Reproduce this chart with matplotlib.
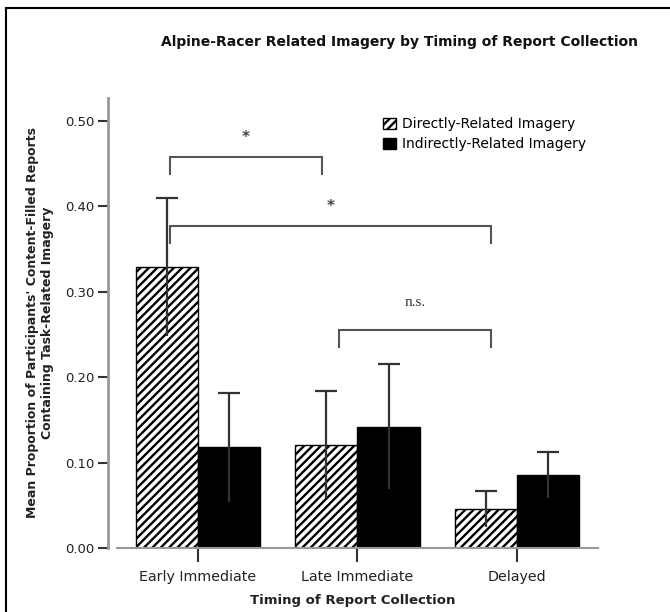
import numpy as np
import matplotlib.pyplot as plt
from matplotlib.lines import Line2D

categories = ['Early Immediate', 'Late Immediate', 'Delayed']
direct_mean = [0.329, 0.121, 0.046]
direct_err = [0.081, 0.063, 0.021]
indirect_mean = [0.118, 0.142, 0.085]
indirect_err = [0.064, 0.073, 0.027]
yticks = [0.0, 0.1, 0.2, 0.3, 0.4, 0.5]

# significance brackets: x left, x right, y top, label, label y
brackets = [(-0.176, 0.777, 0.458, '*', 0.481),
            (-0.176, 1.837, 0.377, '*', 0.400),
            (0.884, 1.837, 0.255, 'n.s.', 0.287)]

plt.rcParams['hatch.linewidth'] = 1.7
plt.rcParams['font.family'] = 'DejaVu Sans'

fig = plt.figure(figsize=(6.7, 6.12), dpi=100)
ax = fig.add_axes([108/670, 1-548/612, 490/670, 450/612])

x = np.arange(len(categories))
w = 0.39
b1 = ax.bar(x - w/2, direct_mean, w, color='white', edgecolor='black',
            hatch='////', linewidth=1, label='Directly-Related Imagery')
b2 = ax.bar(x + w/2, indirect_mean, w, color='black', edgecolor='black',
            linewidth=1, label='Indirectly-Related Imagery')

for xs, m, e in [(x - w/2, direct_mean, direct_err), (x + w/2, indirect_mean, indirect_err)]:
    eb = ax.errorbar(xs, m, yerr=e, fmt='none', ecolor='#333333',
                     elinewidth=1.6, capsize=8, capthick=1.6, zorder=5)
    eb[1][0].set_visible(False)

for xl, xr, yt, lab, ly in brackets:
    ax.plot([xl, xl, xr, xr], [yt - 0.02, yt, yt, yt - 0.02], color='#555555',
            lw=1.5, solid_joinstyle='miter')
    if lab == '*':
        ax.text((xl + xr) / 2, ly, lab, ha='center', va='center', fontsize=11,
                fontweight='bold', color='#444444')
    else:
        ax.text((xl + xr) / 2, ly, lab, ha='center', va='center', fontsize=11,
                family='Liberation Serif', color='#333333')

ax.set_xlim(-0.564, 2.508)
ax.set_ylim(0, 0.527)
ax.set_yticks(yticks)
ax.set_yticklabels(['%.2f' % t for t in yticks], fontsize=9.5, color='#222222')
ax.set_xticks(x)
ax.set_xticklabels(categories, fontsize=10.3, color='#222222')
ax.tick_params(axis='y', length=7, width=1.5, color='#333333', pad=3)
ax.tick_params(axis='x', length=10, width=1.5, color='#333333', pad=6)

for s in ['top', 'right']:
    ax.spines[s].set_visible(False)
ax.spines['left'].set_color('#999999')
ax.spines['left'].set_linewidth(2)
ax.spines['bottom'].set_color('#999999')
ax.spines['bottom'].set_linewidth(1.5)
ax.spines['bottom'].set_bounds(-0.51, 2.508)

ax.set_ylabel("Mean Proportion of Participants' Content-Filled Reports\nContaining Task-Related Imagery",
              fontsize=9, fontweight='bold', color='#222222', labelpad=8)
ax.set_xlabel('Timing of Report Collection', fontsize=9.5, fontweight='bold',
              color='#222222', labelpad=7)

fig.text(400/670, 1-42/612, 'Alpine-Racer Related Imagery by Timing of Report Collection',
         ha='center', va='center', fontsize=10, fontweight='bold', color='#111111')

ax.legend(loc='upper left', bbox_to_anchor=(0.55, 0.97), frameon=False,
          fontsize=10, handlelength=0.9, handleheight=0.9, handletextpad=0.5,
          labelspacing=0.45, borderaxespad=0)

# outer frame (only top and left edges visible)
fig.add_artist(Line2D([6/670, 6/670], [0, 1-8/612], color='black', lw=1.5))
fig.add_artist(Line2D([6/670, 1], [1-8/612, 1-8/612], color='black', lw=1.5))

fig.savefig('out.png', dpi=100)
